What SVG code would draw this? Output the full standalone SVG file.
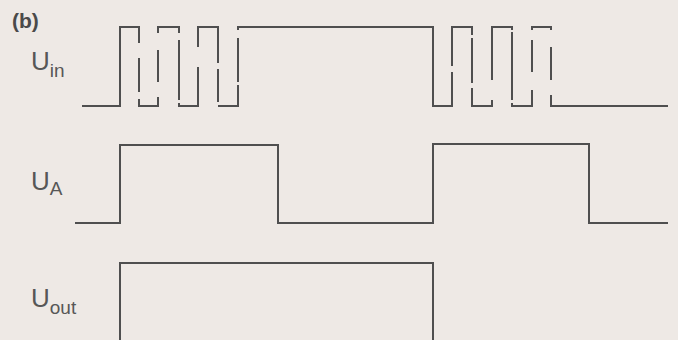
<svg xmlns="http://www.w3.org/2000/svg" width="678" height="340" viewBox="0 0 678 340">
<style>
.bg{fill:#eee9e5}
.w{fill:none;stroke:#4f4f4f;stroke-width:2;stroke-linejoin:miter;stroke-linecap:butt}
.lbl{font-family:"Liberation Sans",Arial,sans-serif;fill:#575757}
.big{font-size:26px}
.sub{font-size:19px}
.tag{font-family:"Liberation Sans",Arial,sans-serif;font-weight:bold;font-size:21px;fill:#4a4a4a}
</style>
<rect class="bg" x="0" y="0" width="678" height="340"/>
<text class="tag" x="12" y="28">(b)</text>
<g id="label-uin"><text class="lbl" x="31" y="70"><tspan class="big">U</tspan><tspan class="sub" dy="7">in</tspan></text></g>
<g id="label-ua"><text class="lbl" x="31" y="190"><tspan class="big">U</tspan><tspan class="sub" dy="5">A</tspan></text></g>
<g id="label-uout"><text class="lbl" x="31" y="307"><tspan class="big">U</tspan><tspan class="sub" dy="7">out</tspan></text></g>
<g id="signal-uin">
<path class="w" d="M82 106H120V27H139V43M139 58V92M139 99V106H158V97M158 82V50M158 33V27H179V33M179 40V100M179 103V106H198V67M198 47V27H218V63M218 69V102M218 106H238V85M238 82V38M238 30V27H433V106H452V72M452 66V27H472V35M472 38V83M472 88V106H492V100M492 80V27H512V30M512 32V100M512 103V106H532V90M532 72V40M532 30V27H551V30M551 47V80M551 95V106H668"/>
</g>
<g id="signal-ua">
<path class="w" d="M75 223H120V145H278V223H433V144H589V223H668"/>
</g>
<g id="signal-uout">
<path class="w" d="M120 340V263H433V340"/>
</g>
</svg>
